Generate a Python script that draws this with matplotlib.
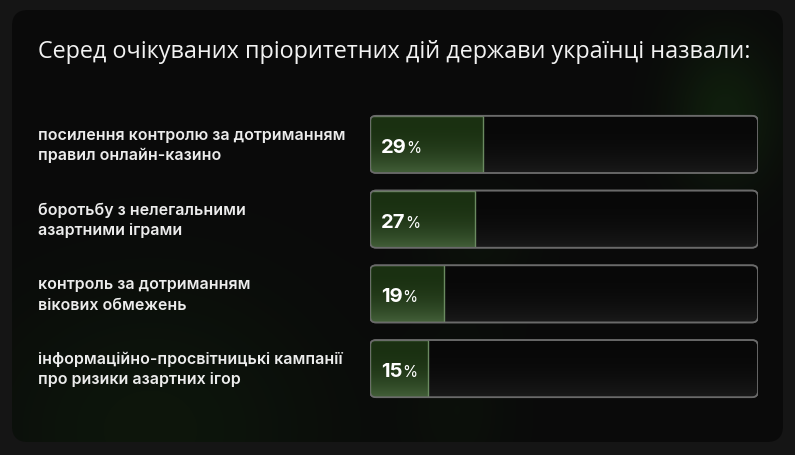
import numpy as np
import matplotlib
matplotlib.use("Agg")
import matplotlib.pyplot as plt
from matplotlib.patches import FancyBboxPatch
from matplotlib.transforms import blended_transform_factory

title = "Серед очікуваних пріоритетних дій держави українці назвали:"
categories = [
    "посилення контролю за дотриманням\nправил онлайн-казино",
    "боротьбу з нелегальними\nазартними іграми",
    "контроль за дотриманням\nвікових обмежень",
    "інформаційно-просвітницькі кампанії\nпро ризики азартних ігор",
]
values = [29, 27, 19, 15]

W, H = 795, 456
fig = plt.figure(figsize=(W / 100, H / 100), dpi=100)
fig.patch.set_facecolor("#151515")

# background axes in pixel coordinates (decoration only)
bg = fig.add_axes([0, 0, 1, 1])
bg.set_xlim(0, W)
bg.set_ylim(H, 0)
bg.axis("off")
panel = FancyBboxPatch((12, 11), 771, 432, boxstyle="round,pad=0,rounding_size=16",
                       fc="#0a0a0a", ec="none", zorder=0)
bg.add_patch(panel)

# subtle green glows
yy, xx = np.mgrid[0:H, 0:W]
img = np.zeros((H, W, 4))
img[..., 0] = 0.14
img[..., 1] = 0.40
img[..., 2] = 0.10
a = np.zeros((H, W))
a += 0.22 * np.exp(-(((xx - 725) / 55) ** 2 + ((yy - 115) / 75) ** 2))
a += 0.13 * np.exp(-(((xx - 150) / 180) ** 2 + ((yy - 430) / 150) ** 2))
a += 0.06 * np.exp(-(((xx - 460) / 55) ** 2 + ((yy - 410) / 90) ** 2))
a += 0.07 * np.exp(-(((xx - 480) / 60) ** 2 + ((yy - 240) / 60) ** 2))
img[..., 3] = np.clip(a, 0, 1)
im = bg.imshow(img, extent=(0, W, H, 0), zorder=1, interpolation="bilinear")
im.set_clip_path(panel)

fig.text(38 / W, 1 - 52 / H, title, color="#f2f2f2", fontsize=16.8,
         family="Open Sans", va="center", ha="left")

# bar axes
left_px, right_px = 370, 758
top_px, bot_px = 108, 407
ax = fig.add_axes([left_px / W, 1 - bot_px / H, (right_px - left_px) / W, (bot_px - top_px) / H])
ax.set_xlim(0, 100)
ax.set_ylim(len(values) - 0.5, -0.5)
ax.axis("off")
ax.patch.set_alpha(0)

bh = 0.765
xpp = 100 / (right_px - left_px)
ypp = len(values) / (bot_px - top_px)
aspect = ypp / xpp
rs = 6 * xpp

label_tr = blended_transform_factory(fig.transFigure, ax.transData)
grad = np.linspace(0, 1, 50)[:, None] * np.ones((1, 2))
for i, (cat, v) in enumerate(zip(categories, values)):
    y0 = i - bh / 2
    track = FancyBboxPatch((0, y0), 100, bh, boxstyle=f"round,pad=0,rounding_size={rs}",
                           mutation_aspect=aspect, fc="#080808", ec="#5c5c5c", lw=1.2, zorder=2)
    ax.add_patch(track)
    g = ax.imshow(np.dstack([np.full_like(grad, 0.17), np.full_like(grad, 0.17),
                             np.full_like(grad, 0.17), grad ** 2.5 * 0.5]),
                  extent=(0, 100, y0 + bh, y0), aspect="auto", zorder=2.1,
                  interpolation="bilinear")
    g.set_clip_path(track)
    bars = ax.barh(i, v, height=bh, color="#1a3011", edgecolor="#6a8a60", lw=1.0, zorder=3)
    for b in bars:
        b.set_clip_path(track)
    gg = ax.imshow(np.dstack([np.full_like(grad, 0.42), np.full_like(grad, 0.56),
                              np.full_like(grad, 0.38), grad ** 2.5 * 0.5]),
                   extent=(0, v, y0 + bh, y0), aspect="auto", zorder=3.1,
                   interpolation="bilinear")
    gg.set_clip_path(track)
    ax.add_patch(FancyBboxPatch((0, y0), 100, bh, boxstyle=f"round,pad=0,rounding_size={rs}",
                                mutation_aspect=aspect, fc="none", ec="#6a6a6a", lw=1.2, zorder=4))
    ax.text(38 / W, i, cat, transform=label_tr, color="#ececec", fontsize=11.5,
            family="Inter", fontweight="semibold", va="center", ha="left", linespacing=1.45)

fig.canvas.draw()
r = fig.canvas.get_renderer()
for i, v in enumerate(values):
    t = ax.text(11 * xpp, i + 0.1, f"{v}", color="white", fontsize=14.5, fontweight="bold",
                family="Inter", va="baseline", ha="left", zorder=5)
    bb = t.get_window_extent(renderer=r)
    xd = ax.transData.inverted().transform((bb.x1 - 0.5, 0))[0]
    ax.text(xd, i + 0.1, "%", color="white", fontsize=11, family="Inter",
            va="baseline", ha="left", zorder=5)

fig.savefig("out.png", dpi=100, facecolor=fig.get_facecolor())
